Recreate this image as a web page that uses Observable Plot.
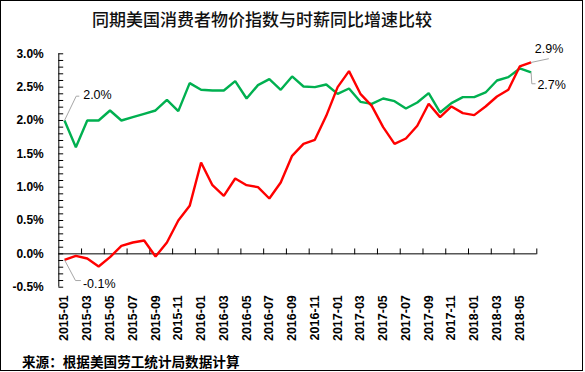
<!DOCTYPE html>
<html>
<head>
<meta charset="utf-8">
<script src="https://cdn.jsdelivr.net/npm/d3@7"></script>
<script src="https://cdn.jsdelivr.net/npm/@observablehq/plot@0.6"></script>
<style>
  html, body { margin: 0; padding: 0; background: #fff; }
  #frame { position: relative; width: 583px; height: 371px; box-sizing: border-box; border: 1px solid #000; overflow: hidden; background: #fff; }
  #title { position: absolute; left: 91px; top: 0; height: 36px; line-height: 36px; font-family: "Noto Sans CJK SC", sans-serif; font-size: 17px; font-weight: 500; color: #111; white-space: nowrap; }
  #chart { position: absolute; left: 0; top: 36px; }
  #caption { position: absolute; left: 21px; top: 347px; height: 26px; line-height: 26px; font-family: "Noto Sans CJK SC", sans-serif; font-size: 13.6px; font-weight: 700; color: #000; white-space: nowrap; }
</style>
</head>
<body>
<div id="frame">
  <div id="title"></div>
  <div id="chart"></div>
  <div id="caption"></div>
</div>
<script>
const titleText = "同期美国消费者物价指数与时薪同比增速比较";
const captionText = "来源：根据美国劳工统计局数据计算";

const months = [
  "2015-01","2015-02","2015-03","2015-04","2015-05","2015-06","2015-07","2015-08","2015-09","2015-10","2015-11","2015-12",
  "2016-01","2016-02","2016-03","2016-04","2016-05","2016-06","2016-07","2016-08","2016-09","2016-10","2016-11","2016-12",
  "2017-01","2017-02","2017-03","2017-04","2017-05","2017-06","2017-07","2017-08","2017-09","2017-10","2017-11","2017-12",
  "2018-01","2018-02","2018-03","2018-04","2018-05","2018-06"
];

// 时薪同比增速 (green), %
const wageGrowth = [
  2.0, 1.6, 2.0, 2.0, 2.15, 2.0, 2.05, 2.1, 2.15, 2.31, 2.14, 2.56,
  2.46, 2.45, 2.45, 2.59, 2.33, 2.53, 2.62, 2.46, 2.66, 2.51, 2.5, 2.54,
  2.4, 2.48, 2.28, 2.25, 2.33, 2.29, 2.18, 2.27, 2.41, 2.12, 2.26, 2.35,
  2.35, 2.42, 2.6, 2.65, 2.78, 2.72
];

// 消费者物价指数同比 (red), %
const cpiGrowth = [
  -0.09, -0.03, -0.07, -0.19, -0.05, 0.12, 0.17, 0.2, -0.04, 0.17, 0.5, 0.72,
  1.37, 1.03, 0.87, 1.13, 1.03, 1.0, 0.83, 1.07, 1.47, 1.65, 1.71, 2.07,
  2.5, 2.74, 2.4, 2.22, 1.9, 1.65, 1.73, 1.92, 2.25, 2.05, 2.21, 2.11,
  2.08, 2.21, 2.36, 2.46, 2.81, 2.87
];

const yTickValues = [-0.5, 0, 0.5, 1.0, 1.5, 2.0, 2.5, 3.0];
const yDomain = [-0.5, 3.0];
const endLabels = { wageStart: "2.0%", cpiStart: "-0.1%", cpiEnd: "2.9%", wageEnd: "2.7%" };

document.getElementById("title").textContent = titleText;
document.getElementById("caption").textContent = captionText;

const idx = months.map((m, i) => i);
const wageData = idx.map(i => ({ i, v: wageGrowth[i] }));
const cpiData = idx.map(i => ({ i, v: cpiGrowth[i] }));
const xDomain = [-0.5, months.length - 0.5];
const n = months.length;
const last = n - 1;

const FONT = '"Liberation Sans", Arial, sans-serif';

const pathShape = (pts) => ({
  draw(context) {
    context.moveTo(0, 0);
    for (const [a, b] of pts) context.lineTo(a, b);
  }
});

const xTickShape = pathShape([[0, -5]]);
const yTickShape = pathShape([[4, 0]]);

const minorY = d3.range(Math.round(yDomain[0] * 10), Math.round(yDomain[1] * 10) + 1).map(d => d / 10);
const boundaries = d3.range(1.5, n, 2);

const chart = Plot.plot({
  width: 581,
  height: 308,
  marginLeft: 57.3,
  marginRight: 45.7,
  marginTop: 16.3,
  marginBottom: 58.3,
  style: { fontFamily: FONT, fontSize: "12.5px", color: "#000", background: "transparent", overflow: "visible" },
  x: { type: "linear", domain: xDomain },
  y: { type: "linear", domain: yDomain },
  marks: [
    Plot.axisY({ ticks: yTickValues, tickSize: 0, tickPadding: 15, tickFormat: d => d.toFixed(1) + "%", fontWeight: "bold", fontSize: 12, label: null }),
    Plot.axisX({ ticks: d3.range(0, n, 2), tickSize: 0, tickPadding: 8, tickRotate: -90, tickFormat: i => months[i], fontWeight: "bold", fontSize: 12.5, label: null }),
    Plot.ruleX([xDomain[0]], { stroke: "#000", strokeWidth: 1 }),
    Plot.ruleY([0], { stroke: "#000", strokeWidth: 1 }),
    Plot.vector(boundaries, { x: d => d, y: () => 0, length: 1, anchor: "start", shape: xTickShape, stroke: "#000", strokeWidth: 1 }),
    Plot.vector(minorY, { x: () => xDomain[0], y: d => d, length: 1, anchor: "start", shape: yTickShape, stroke: "#000", strokeWidth: 1 }),
    Plot.lineY(wageData, { x: "i", y: "v", stroke: "#00b050", strokeWidth: 2.4, strokeLinejoin: "miter", strokeLinecap: "butt" }),
    Plot.lineY(cpiData, { x: "i", y: "v", stroke: "#ff0000", strokeWidth: 2.4, strokeLinejoin: "miter", strokeLinecap: "butt" }),
    // leader lines
    Plot.vector([wageData[0]], { x: "i", y: "v", length: 1, anchor: "start", shape: pathShape([[11.7, -24.3], [14.4, -24.3]]), stroke: "#a6a6a6", strokeWidth: 1, fill: "none" }),
    Plot.vector([cpiData[0]], { x: "i", y: "v", length: 1, anchor: "start", shape: pathShape([[11, 20.7], [16, 20.7]]), stroke: "#a6a6a6", strokeWidth: 1, fill: "none" }),
    Plot.vector([cpiData[last]], { x: "i", y: "v", length: 1, anchor: "start", shape: pathShape([[17.3, -3.7]]), stroke: "#a6a6a6", strokeWidth: 1, fill: "none" }),
    Plot.vector([wageData[last]], { x: "i", y: "v", length: 1, anchor: "start", shape: pathShape([[0.7, 11.3], [4, 11.3]]), stroke: "#a6a6a6", strokeWidth: 1, fill: "none" }),
    // value labels
    Plot.text([wageData[0]], { x: "i", y: "v", text: () => endLabels.wageStart, dx: 18.7, dy: -25, textAnchor: "start", fontSize: 12.5, fill: "#000" }),
    Plot.text([cpiData[0]], { x: "i", y: "v", text: () => endLabels.cpiStart, dx: 18.4, dy: 23.7, textAnchor: "start", fontSize: 12.5, fill: "#000" }),
    Plot.text([cpiData[last]], { x: "i", y: "v", text: () => endLabels.cpiEnd, dx: 3.7, dy: -13, textAnchor: "start", fontSize: 12.5, fill: "#000" }),
    Plot.text([wageData[last]], { x: "i", y: "v", text: () => endLabels.wageEnd, dx: 6.3, dy: 13, textAnchor: "start", fontSize: 12.5, fill: "#000" })
  ]
});

document.getElementById("chart").appendChild(chart);
</script>
</body>
</html>
